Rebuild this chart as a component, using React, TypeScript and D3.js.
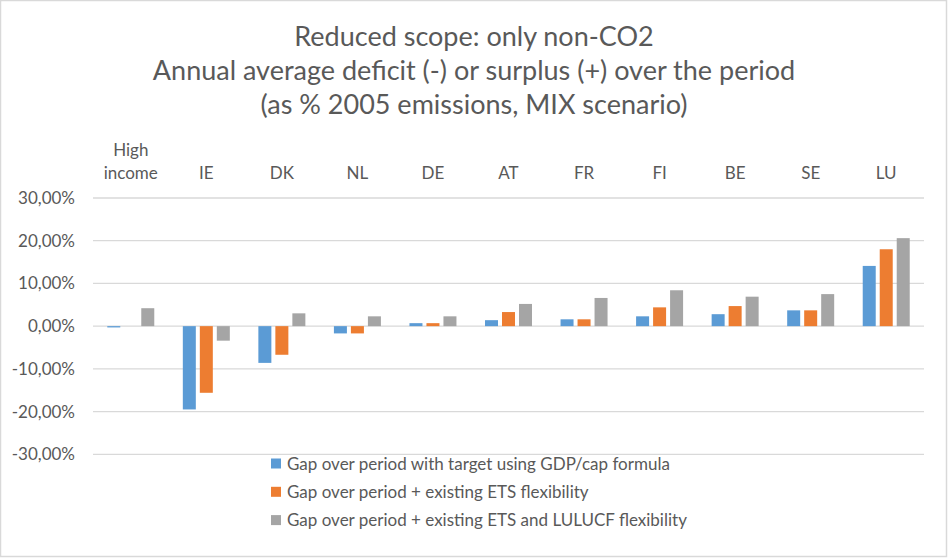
import React, { useEffect, useRef } from "react";
import * as d3 from "d3";

const categories = ["High income", "IE", "DK", "NL", "DE", "AT", "FR", "FI", "BE", "SE", "LU"];
const seriesNames = [
  "Gap over period with target using GDP/cap formula",
  "Gap over period + existing ETS flexibility",
  "Gap over period + existing ETS and LULUCF flexibility",
];
const gdpFormula = [-0.3, -19.5, -8.6, -1.7, 0.7, 1.4, 1.6, 2.3, 2.8, 3.7, 14.1];
const etsFlex = [0, -15.6, -6.7, -1.7, 0.7, 3.3, 1.6, 4.4, 4.7, 3.7, 18.0];
const etsLulucfFlex = [4.2, -3.4, 3.0, 2.3, 2.3, 5.2, 6.6, 8.4, 6.9, 7.5, 20.6];
const yTicks = [-30, -20, -10, 0, 10, 20, 30];
const titleLines = [
  "Reduced scope: only non-CO2",
  "Annual average deficit (-) or surplus (+) over the period",
  "(as % 2005 emissions, MIX scenario)",
];
const colors = ["#5B9BD5", "#ED7D31", "#A5A5A5"];

export default function App() {
  const svgRef = useRef<SVGSVGElement>(null);

  useEffect(() => {
    const width = 948;
    const height = 558;
    const font = "Lato, 'Open Sans', sans-serif";
    const textColor = "#595959";

    const svg = d3.select(svgRef.current).attr("width", width).attr("height", height);
    svg.selectAll("*").remove();

    svg
      .append("rect")
      .attr("x", 0.5)
      .attr("y", 0.5)
      .attr("width", width - 2)
      .attr("height", height - 2)
      .attr("fill", "#fff")
      .attr("stroke", "#d9d9d9")
      .attr("stroke-width", 1.5);

    const x0 = d3.scaleBand<string>().domain(categories).range([93, 924]);
    const groupWidth = 47;
    const x1 = d3
      .scaleBand<number>()
      .domain([0, 1, 2])
      .range([0, groupWidth])
      .paddingInner(4 / 17);
    const y = d3.scaleLinear().domain([-30, 30]).range([454.3, 198]);

    const locale = d3.formatLocale({
      decimal: ",",
      thousands: ".",
      grouping: [3],
      currency: ["", "€"],
      minus: "-",
    });
    const fmt = locale.format(".2f");

    // title
    svg
      .append("g")
      .selectAll("text")
      .data(titleLines)
      .join("text")
      .attr("x", 474)
      .attr("y", (d, i) => 46 + i * 34)
      .attr("text-anchor", "middle")
      .attr("font-family", font)
      .attr("font-size", 27)
      .attr("fill", textColor)
      .text((d) => d);

    // gridlines + y labels
    const grid = svg.append("g");
    grid
      .selectAll("line")
      .data(yTicks)
      .join("line")
      .attr("x1", 93)
      .attr("x2", 924)
      .attr("y1", (d) => y(d))
      .attr("y2", (d) => y(d))
      .attr("stroke", "#d9d9d9")
      .attr("stroke-width", 1.3);
    grid
      .selectAll("text")
      .data(yTicks)
      .join("text")
      .attr("x", 75)
      .attr("y", (d) => y(d) + 6)
      .attr("text-anchor", "end")
      .attr("font-family", font)
      .attr("font-size", 17)
      .attr("fill", textColor)
      .text((d) => fmt(d) + "%");

    // category labels
    const catG = svg.append("g");
    categories.forEach((c) => {
      const cx = (x0(c) as number) + x0.bandwidth() / 2;
      const words = c.split(" ");
      words.forEach((w, i) => {
        catG
          .append("text")
          .attr("x", cx)
          .attr("y", 179 - (words.length - 1 - i) * 23)
          .attr("text-anchor", "middle")
          .attr("font-family", font)
          .attr("font-size", 17)
          .attr("fill", textColor)
          .text(w);
      });
    });

    // bars
    const seriesData = [gdpFormula, etsFlex, etsLulucfFlex];
    seriesData.forEach((vals, s) => {
      svg
        .append("g")
        .selectAll("rect")
        .data(vals)
        .join("rect")
        .attr(
          "x",
          (d, i) =>
            (x0(categories[i]) as number) +
            (x0.bandwidth() - groupWidth) / 2 +
            (x1(s) as number)
        )
        .attr("width", x1.bandwidth())
        .attr("y", (d) => y(Math.max(0, d)))
        .attr("height", (d) => Math.abs(y(d) - y(0)))
        .attr("fill", colors[s]);
    });

    // legend
    const leg = svg.append("g");
    seriesNames.forEach((name, i) => {
      const cy = 463.5 + i * 28.3;
      leg
        .append("rect")
        .attr("x", 271)
        .attr("y", cy - 5)
        .attr("width", 10)
        .attr("height", 10)
        .attr("fill", colors[i]);
      leg
        .append("text")
        .attr("x", 287)
        .attr("y", cy + 6)
        .attr("font-family", font)
        .attr("font-size", 17)
        .attr("fill", textColor)
        .text(name);
    });
  }, []);

  return (
    <svg
      ref={svgRef}
      style={{ position: "absolute", left: 0, top: 0, display: "block" }}
    ></svg>
  );
}
